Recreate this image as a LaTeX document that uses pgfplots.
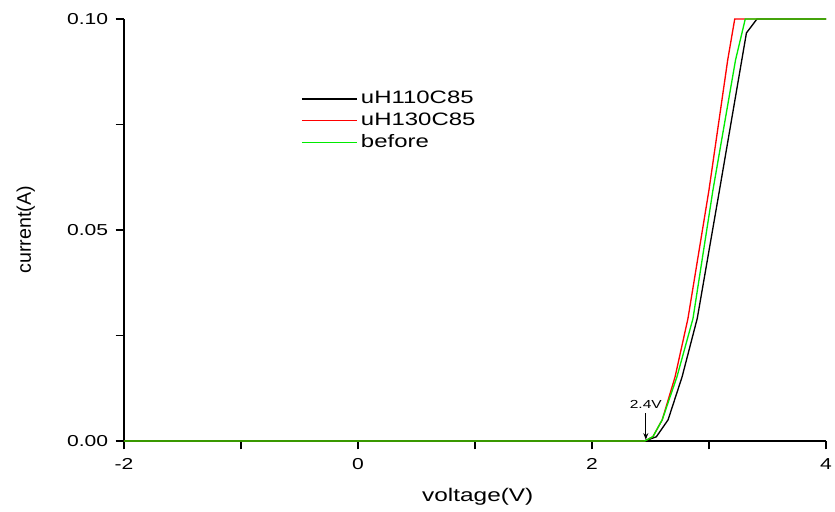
\documentclass[border=0pt]{standalone}
\usepackage{pgfplots}
\pgfplotsset{compat=1.18}
\usepackage{fontspec}
\setmainfont[FakeStretch=1.33]{Liberation Sans}
\newfontfamily\plainfont{Liberation Sans}
\usetikzlibrary{arrows.meta}
\definecolor{pgreen}{RGB}{0,235,0}
\begin{document}
\begin{tikzpicture}
\useasboundingbox (-74.4pt,-42.6pt) rectangle (426.6pt,264.6pt);
\begin{axis}[
  at={(0,0)}, anchor=south west,
  scale only axis,
  width=421.2pt, height=253.2pt,
  xmin=-2, xmax=4, ymin=0, ymax=0.1,
  axis x line*=bottom, axis y line*=left,
  axis line style={line width=0.7pt},
  tick style={line width=0.7pt, black},
  tick align=outside,
  major tick length=5pt, minor tick length=5pt,
  xtick={-2,0,2,4}, minor xtick={-1,1,3},
  ytick={0,0.05,0.1}, minor ytick={0.025,0.075},
  scaled y ticks=false,
  yticklabel style={/pgf/number format/fixed, /pgf/number format/fixed zerofill, /pgf/number format/precision=2, xshift=-1pt},
  xticklabel style={yshift=-2pt},
  /pgf/number format/assume math mode=true,
  ticklabel style={font=\fontsize{9.5}{11}\selectfont},
  xlabel={voltage(V)}, ylabel={current(A)},
  xlabel style={font=\fontsize{11}{13}\selectfont, at={(axis description cs:0.504,0)}, anchor=center, yshift=-33.6pt},
  ylabel style={font=\plainfont\fontsize{11.8}{13}\selectfont, at={(axis description cs:0,0.5)}, anchor=center, yshift=59pt},
  legend style={draw=none, fill=none, at={(0.245,0.845)}, anchor=north west, font=\fontsize{10.8}{12}\selectfont, row sep=0pt},
  legend cell align=left,
  legend image code/.code={\draw[#1, line width=0.8pt] (0pt,0pt) -- (33pt,0pt);},
  clip=false,
]
\addplot[black, line width=0.8pt] coordinates {
(-2,0) (2.45,0) (2.55,0.001) (2.65,0.005) (2.77,0.0152) (2.90,0.0291) (3.09,0.0595) (3.32,0.0967) (3.41,0.1) (4,0.1)};
\addlegendentry{uH110C85}
\addplot[red, line width=0.8pt] coordinates {
(-2,0) (2.45,0) (2.52,0.001) (2.60,0.005) (2.71,0.0152) (2.82,0.029) (3.00,0.0595) (3.16,0.0903) (3.22,0.1) (4,0.1)};
\addlegendentry{uH130C85}
\addplot[pgreen, line width=0.8pt] coordinates {
(-2,0) (2.45,0) (2.52,0.001) (2.60,0.005) (2.726,0.0152) (2.863,0.029) (3.034,0.0595) (3.227,0.0903) (3.31,0.1) (4,0.1)};
\addlegendentry{before}
\draw[-{Stealth[length=4pt,width=3pt]}, line width=0.6pt] (axis cs:2.46,0.0066) -- (axis cs:2.46,0.0003);
\node[font=\fontsize{7}{8}\selectfont, anchor=south] at (axis cs:2.46,0.0064) {2.4V};
\end{axis}
\end{tikzpicture}
\end{document}
